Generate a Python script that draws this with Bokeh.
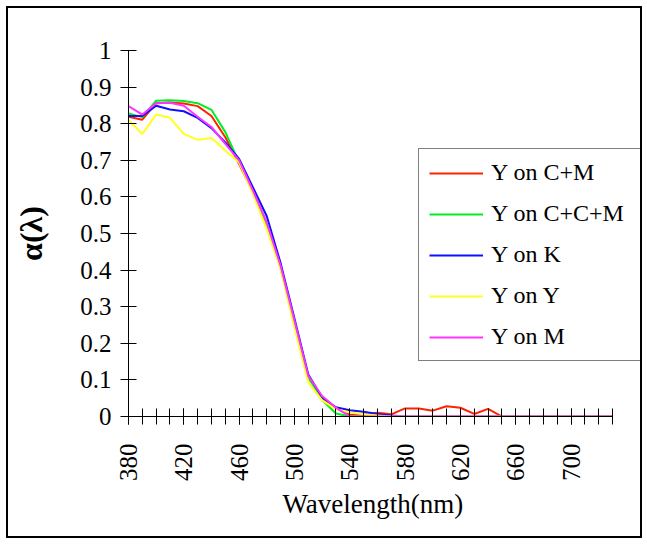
import math
from bokeh.plotting import figure
from bokeh.models import (Range1d, FixedTicker, CustomJSTickFormatter, Legend,
                          LegendItem, Title)
from bokeh.embed import file_html
from bokeh.resources import INLINE

wavelength = list(range(380, 740, 10))

y_on_cm = [0.819, 0.811, 0.856, 0.858, 0.855, 0.848, 0.821, 0.763, 0.690, 0.613,
           0.520, 0.407, 0.255, 0.107, 0.052, 0.022, 0.005, 0.005, 0.010, 0.006,
           0.022, 0.022, 0.016, 0.028, 0.024, 0.007, 0.021, 0.0, 0.0, 0.0,
           0.0, 0.0, 0.0, 0.0, 0.0, 0.0]
y_on_ccm = [0.828, 0.818, 0.863, 0.864, 0.862, 0.856, 0.838, 0.777, 0.694, 0.617,
            0.525, 0.405, 0.255, 0.107, 0.045, 0.008, 0.0, 0.0, 0.0, 0.0,
            0.0, 0.0, 0.0, 0.0, 0.0, 0.0, 0.0, 0.0, 0.0, 0.0,
            0.0, 0.0, 0.0, 0.0, 0.0, 0.0]
y_on_k = [0.821, 0.821, 0.849, 0.839, 0.834, 0.816, 0.788, 0.749, 0.704, 0.626,
          0.547, 0.419, 0.268, 0.115, 0.052, 0.025, 0.017, 0.013, 0.007, 0.003,
          0.0, 0.0, 0.0, 0.0, 0.0, 0.0, 0.0, 0.0, 0.0, 0.0,
          0.0, 0.0, 0.0, 0.0, 0.0, 0.0]
y_on_y = [0.810, 0.772, 0.825, 0.816, 0.772, 0.756, 0.761, 0.727, 0.694, 0.608,
          0.512, 0.403, 0.243, 0.093, 0.044, 0.020, 0.011, 0.006, 0.003, 0.0,
          0.0, 0.0, 0.0, 0.0, 0.0, 0.0, 0.0, 0.0, 0.0, 0.0,
          0.0, 0.0, 0.0, 0.0, 0.0, 0.0]
y_on_m = [0.848, 0.825, 0.856, 0.857, 0.849, 0.819, 0.791, 0.745, 0.700, 0.617,
          0.530, 0.412, 0.262, 0.111, 0.056, 0.024, 0.0, 0.0, 0.0, 0.0,
          0.0, 0.0, 0.0, 0.0, 0.0, 0.0, 0.0, 0.0, 0.0, 0.0,
          0.0, 0.0, 0.0, 0.0, 0.0, 0.0]

series_labels = ["Y on C+M", "Y on C+C+M", "Y on K", "Y on Y", "Y on M"]
series_values = [y_on_cm, y_on_ccm, y_on_k, y_on_y, y_on_m]
series_colors = ["#ff2200", "#00ee22", "#1010ff", "#ffff22", "#ff33ff"]

x_major_ticks = list(range(380, 701, 40))
x_minor_ticks = list(range(380, 731, 10))
y_ticks = [round(i / 10, 1) for i in range(0, 11)]

FONT = "Liberation Serif"

# frame: 380 nm at canvas x=120, 730 nm at canvas x=604; frame extends to 632
x_end = 380 + (632 - 120) * 350 / 484

p = figure(width=632, height=528, output_backend="svg", toolbar_location=None,
           x_range=Range1d(380, x_end), y_range=Range1d(0, 1),
           min_border_left=120, min_border_right=0,
           min_border_top=42, min_border_bottom=120,
           styles={"margin": "8px", "outline": "2px solid black"})
p.outline_line_color = None
p.grid.visible = False
p.background_fill_color = "white"
p.border_fill_color = "white"

renderers = []
for vals, col in zip(series_values, series_colors):
    r = p.line(wavelength, vals, line_color=col, line_width=2)
    renderers.append(r)

xa = p.xaxis[0]
xa.bounds = (380, 730)
xa.ticker = FixedTicker(ticks=x_major_ticks, minor_ticks=x_minor_ticks)
xa.major_label_orientation = math.pi / 2
xa.major_tick_in = 8
xa.major_tick_out = 8
xa.minor_tick_in = 8
xa.minor_tick_out = 8
xa.minor_tick_line_color = "black"
xa.major_tick_line_color = "black"
xa.axis_line_color = "black"
xa.major_label_text_font = FONT
xa.major_label_text_font_size = "25px"
xa.major_label_text_color = "black"
xa.major_label_standoff = 19

x_title = Title(text="Wavelength(nm)", align="left", offset=154,
                text_font=FONT, text_font_size="27px",
                text_font_style="normal", text_color="black", standoff=5)
p.add_layout(x_title, "below")

ya = p.yaxis[0]
ya.ticker = FixedTicker(ticks=y_ticks, minor_ticks=[])
ya.formatter = CustomJSTickFormatter(code="return String(Math.round(tick*10)/10);")
ya.major_tick_in = 8
ya.major_tick_out = 8
ya.major_tick_line_color = "black"
ya.axis_line_color = "black"
ya.major_label_text_font = FONT
ya.major_label_text_font_size = "25px"
ya.major_label_text_color = "black"
ya.major_label_standoff = 9
ya.axis_label = "\u03b1(\u03bb)"
ya.axis_label_text_font = FONT
ya.axis_label_text_font_size = "32px"
ya.axis_label_text_font_style = "bold"
ya.axis_label_text_color = "black"
ya.axis_label_standoff = 28

legend = Legend(items=[LegendItem(label=lab, renderers=[r])
                       for lab, r in zip(series_labels, renderers)],
                location=(290, 55))
legend.label_text_font = FONT
legend.label_text_font_size = "24px"
legend.label_text_color = "black"
legend.glyph_width = 54
legend.glyph_height = 26
legend.label_height = 26
legend.label_width = 140
legend.label_standoff = 8
legend.spacing = 14
legend.padding = 10
legend.margin = 0
legend.border_line_color = "black"
legend.border_line_width = 1
legend.background_fill_color = "white"
legend.background_fill_alpha = 1
p.add_layout(legend)

open("out.html", "w").write(file_html(p, INLINE))
